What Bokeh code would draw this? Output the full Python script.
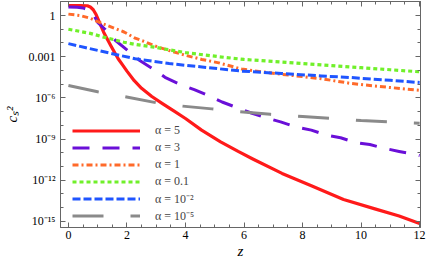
from bokeh.plotting import figure
from bokeh.models import (FixedTicker, LinearAxis, LogAxis, Range1d,
                          Legend, LegendItem, CustomJSTickFormatter)
from bokeh.embed import file_html
from bokeh.resources import INLINE

# ---------------- data (log10 of c_s^2) ----------------
z_a5 = [0, 0.4, 0.65, 0.75, 0.85, 0.95, 1.05, 1.2, 1.45, 1.7, 1.85, 2.0, 2.25, 2.5,
        2.85, 3.2, 3.6, 4.0, 4.55, 5.2, 5.8, 6.3, 7.3, 8.3, 9.4, 10.5, 11.3, 12]
lg_a5 = [0.73, 0.73, 0.71, 0.62, 0.42, 0.05, -0.45, -1.2, -2.2, -3.15, -3.6, -4.05,
         -4.75, -5.3, -5.9, -6.4, -6.95, -7.5, -8.35, -9.2, -9.9, -10.45, -11.5,
         -12.4, -13.4, -14.1, -14.6, -15.15]

z_a3 = [0, 0.3, 0.5, 0.7, 0.85, 1.0, 1.25, 1.6, 2.0, 2.45, 2.9, 3.3, 3.8, 4.3, 4.8,
        5.25, 5.75, 6.25, 6.75, 7.25, 7.75, 8.3, 8.8, 9.3, 9.8, 10.3, 10.85, 11.3,
        11.9, 12]
lg_a3 = [0.62, 0.6, 0.55, 0.4, 0.1, -0.5, -1.0, -1.8, -2.5, -3.3, -3.9, -4.5, -5.0,
         -5.4, -5.85, -6.3, -6.7, -7.1, -7.45, -7.75, -8.1, -8.35, -8.7, -8.9, -9.25,
         -9.4, -9.7, -9.9, -10.15, -10.2]

z_a1 = [0, 0.4, 0.75, 1.0, 1.33, 1.6, 1.9, 2.28, 2.6, 2.93, 3.44, 4.0, 4.56, 5.14,
        5.92, 6.6, 7.28, 8.0, 8.64, 9.66, 10.3, 11.02, 12]
lg_a1 = [0.1, 0.0, -0.2, -0.45, -0.73, -0.95, -1.2, -1.65, -1.9, -2.2, -2.55, -2.9,
         -3.2, -3.45, -3.9, -4.1, -4.28, -4.45, -4.6, -4.95, -5.1, -5.25, -5.45]

z_a01 = [0, 0.75, 1.16, 1.9, 2.28, 2.93, 3.44, 4.0, 5.14, 6.0, 7.0, 8.0, 9.0, 10.0,
         11.0, 12]
lg_a01 = [-1.0, -1.3, -1.55, -1.95, -2.1, -2.3, -2.5, -2.7, -3.0, -3.2, -3.35, -3.5,
          -3.65, -3.8, -3.95, -4.1]

z_a1e2 = [0, 0.6, 1.33, 2.28, 3.44, 4.56, 5.92, 7.28, 8.64, 9.66, 11.0, 12]
lg_a1e2 = [-2.05, -2.35, -2.7, -3.15, -3.5, -3.75, -4.05, -4.22, -4.4, -4.52, -4.72,
           -4.88]

z_a1e5 = [0, 1.0, 1.9, 3.0, 3.9, 4.9, 5.8, 6.9, 8.0, 9.0, 10.0, 11.0, 12]
lg_a1e5 = [-5.1, -5.55, -5.9, -6.35, -6.6, -6.8, -7.0, -7.2, -7.35, -7.5, -7.65,
           -7.75, -7.85]

series_labels = ["α = 5", "α = 3", "α = 1", "α = 0.1", "α = 10⁻²", "α = 10⁻⁵"]

x_tick_values = [0, 2, 4, 6, 8, 10, 12]
y_tick_values = [1, 1e-3, 1e-6, 1e-9, 1e-12, 1e-15]
y_tick_labels = ["1", "0.001", "10⁻⁶", "10⁻⁹", "10⁻¹²", "10⁻¹⁵"]
x_title = "z"
y_title = "cₛ²"

# ---------------- styles ----------------
FONT = "Liberation Serif"
AX = "#666666"
styles = [
    dict(color="#ff1a1a", dash="solid", width=3.2),
    dict(color="#6a0fd8", dash="17 13", width=3),
    dict(color="#ff6a2a", dash="6 3 2 3", width=3),
    dict(color="#70f02a", dash="4 3", width=3.2),
    dict(color="#1f55ff", dash="8 3", width=3),
    dict(color="#8a8a8a", dash="31 27", width=3),
]
series = [(z_a5, lg_a5), (z_a3, lg_a3), (z_a1, lg_a1), (z_a01, lg_a01),
          (z_a1e2, lg_a1e2), (z_a1e5, lg_a1e5)]

p = figure(width=426, height=261, y_axis_type="log",
           x_range=Range1d(-0.27, 12.03), y_range=Range1d(10 ** -15.44, 10 ** 1.02),
           output_backend="svg", toolbar_location=None,
           min_border_left=58, min_border_right=6, min_border_top=1,
           min_border_bottom=34)
p.grid.visible = False
p.outline_line_color = AX
p.background_fill_color = "white"

renderers = []
for (zs, lgs), st in zip(series, styles):
    ys = [10 ** v for v in lgs]
    r = p.line(zs, ys, line_color=st["color"], line_width=st["width"],
               line_dash=st["dash"], line_cap="butt", line_join="round")
    renderers.append(r)

x_minor = [i * 0.5 for i in range(0, 25)]
y_minor = [10.0 ** k for k in range(-15, 2)]

xt = FixedTicker(ticks=x_tick_values, minor_ticks=x_minor)
yt = FixedTicker(ticks=y_tick_values, minor_ticks=y_minor)

yfmt = CustomJSTickFormatter(args=dict(vals=y_tick_values, labels=y_tick_labels), code="""
const e = Math.log10(tick);
for (let i = 0; i < vals.length; i++) {
  if (Math.abs(Math.log10(vals[i]) - e) < 0.01) { return labels[i]; }
}
return "";
""")
blank = CustomJSTickFormatter(code="return '';")


def style_axis(ax):
    ax.axis_line_color = AX
    ax.major_tick_line_color = AX
    ax.minor_tick_line_color = AX
    ax.major_tick_in = 5
    ax.major_tick_out = 0
    ax.minor_tick_in = 3
    ax.minor_tick_out = 0
    ax.major_label_text_font = FONT
    ax.major_label_text_font_size = "12px"
    ax.major_label_text_color = "black"


p.xaxis.ticker = xt
p.yaxis.ticker = yt
p.yaxis.formatter = yfmt
for ax in p.xaxis + p.yaxis:
    style_axis(ax)
    ax.axis_label_text_font = FONT
    ax.axis_label_text_font_style = "italic"
    ax.axis_label_text_font_size = "15px"
    ax.axis_label_text_color = "black"
p.xaxis.major_label_standoff = 3
p.yaxis.major_label_standoff = 5
p.xaxis.axis_label = x_title
p.yaxis.axis_label = y_title
p.xaxis.axis_label_standoff = 1
p.yaxis.axis_label_standoff = 6

top = LinearAxis(ticker=xt, formatter=blank)
right = LogAxis(ticker=yt, formatter=blank)
for ax in (top, right):
    style_axis(ax)
    ax.major_label_text_font_size = "0px"
    ax.major_label_standoff = 0
p.add_layout(top, "above")
p.add_layout(right, "right")

legend = Legend(items=[LegendItem(label=lab, renderers=[r])
                       for lab, r in zip(series_labels, renderers)],
                location=(12, 3), glyph_width=68, glyph_height=17,
                label_height=17, spacing=0, padding=0, margin=0,
                label_standoff=15, border_line_alpha=0, background_fill_alpha=0,
                label_text_font=FONT, label_text_font_size="12px")
p.add_layout(legend)

open("out.html", "w").write(file_html(p, INLINE))
